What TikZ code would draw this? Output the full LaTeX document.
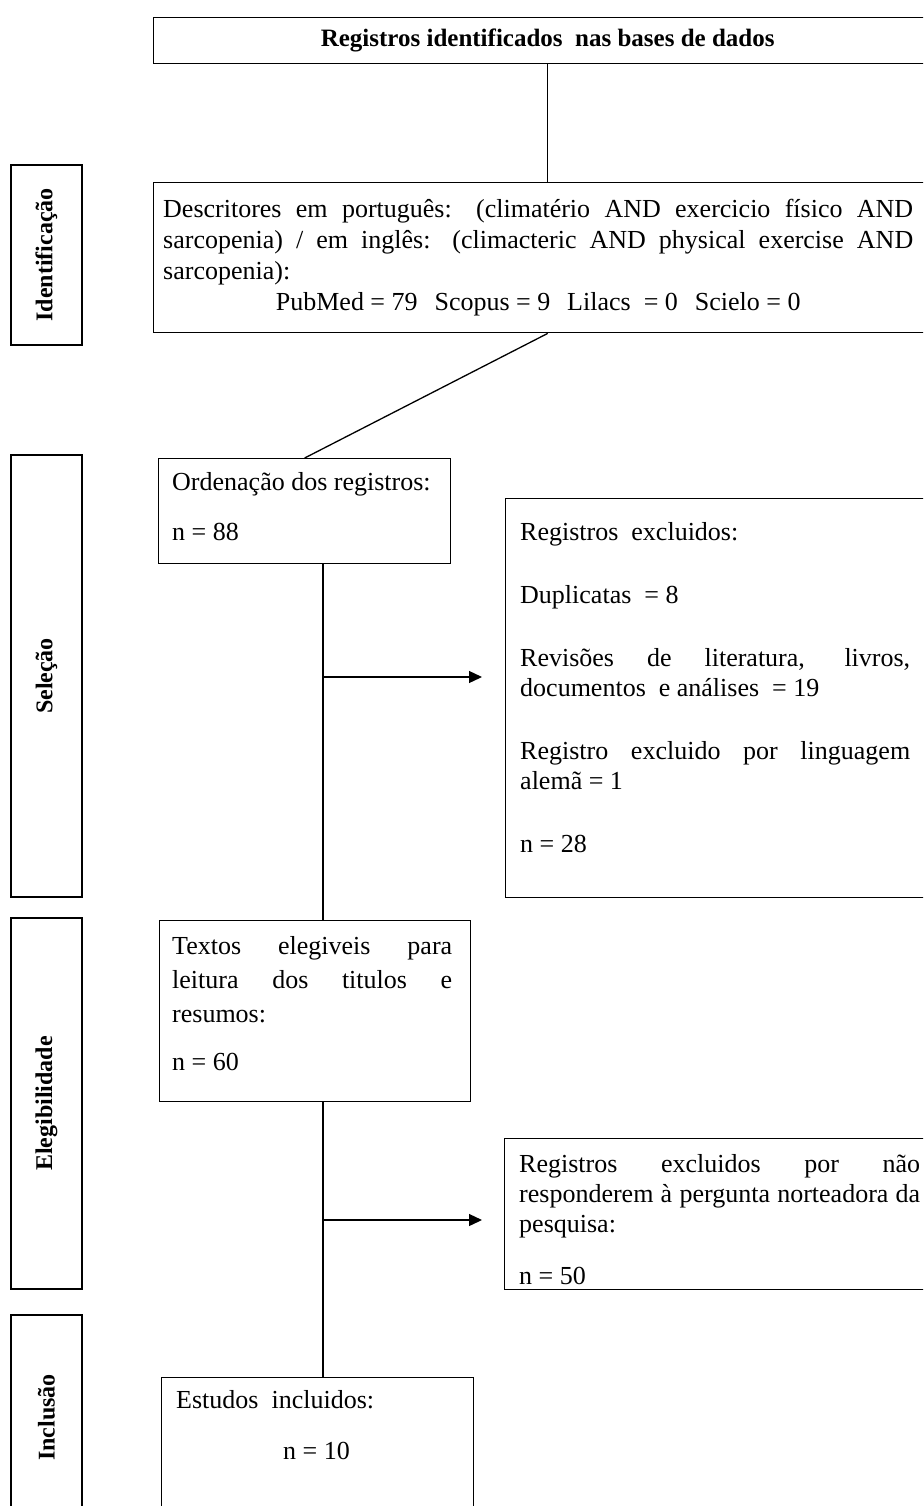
\documentclass[tikz,border=0pt]{standalone}
\usepackage{fontspec}
\setmainfont{Liberation Serif}
\usetikzlibrary{arrows.meta}

\tikzset{
	frame/.style={draw, line width=1.4pt, inner sep=0pt, anchor=north west},
	boxtext/.style={anchor=north west, inner sep=0pt, align=justify},
	stagebox/.style={draw, line width=1.4pt, rotate=90, minimum height=71pt, inner sep=0pt,
		font=\fontsize{24pt}{28pt}\selectfont\bfseries},
	flowline/.style={line width=1.3pt},
	flowarrow/.style={line width=1.3pt, -{Triangle[length=13pt,width=12pt]}}
}

\begin{document}
\begin{tikzpicture}[x=1pt,y=-1pt]
		\tikzstyle{every node}=[font=\fontsize{26pt}{30pt}\selectfont]
		
		\useasboundingbox (0,0) rectangle (923,1506);
		\clip (0,0) rectangle (923,1506);
		
		% etapas
		\node[stagebox, minimum width=180pt] (ident) at (46.5,255) {Identificação};
		\node[stagebox, minimum width=442pt] (sel) at (46.5,676) {Seleção};
		\node[stagebox, minimum width=371pt] (eleg) at (46.5,1103.5) {Elegibilidade};
		\node[stagebox, minimum width=205pt] (incl) at (46.5,1417.5) {Inclusão};
		
		% caixas
		\node[frame, minimum width=788pt, minimum height=46pt, font=\fontsize{25pt}{30pt}\selectfont\bfseries] (title) at (153,17) {Registros identificados~ nas bases de dados};
		
		\node[frame, minimum width=788pt, minimum height=150pt] (desc) at (153,182) {};
		\node[boxtext, text width=750pt, font=\fontsize{26pt}{31pt}\selectfont] (desctext) at ([xshift=10pt,yshift=-14pt]desc.north west) {\strut Descritores em português: (climatério AND exercicio físico AND\linebreak sarcopenia) / em inglês: (climacteric AND physical exercise AND\linebreak sarcopenia):\par
			{\centering PubMed = 79\hspace{.65em}Scopus = 9\hspace{.65em}Lilacs~ = 0\hspace{.65em}Scielo = 0\par}};
		
		\node[frame, minimum width=292pt, minimum height=105pt] (ord) at (158,458) {};
		\node[boxtext, text width=265pt] (ordtext) at ([xshift=14pt,yshift=-11pt]ord.north west) {\strut Ordenação dos registros:\\[20pt] n = 88};
		
		\node[frame, minimum width=440pt, minimum height=399pt] (excl1) at (505,498) {};
		\node[boxtext, text width=390pt] (excl1text) at ([xshift=15pt,yshift=-21pt]excl1.north west) {\strut Registros~ excluidos:\\[33pt]
			Duplicatas~ = 8\\[33pt]
			Revisões de literatura, livros,\linebreak documentos~ e análises~ = 19\\[33pt]
			Registro excluido por linguagem\linebreak alemã = 1\\[33pt]
			n = 28};
		
		\node[frame, minimum width=311pt, minimum height=181pt] (textos) at (159,920) {};
		\node[boxtext, text width=280pt, font=\fontsize{26pt}{34pt}\selectfont] (textostext) at ([xshift=13pt,yshift=-10pt]textos.north west) {\strut Textos elegiveis para\linebreak leitura dos titulos e\linebreak resumos:\\[14pt] n = 60};
		
		\node[frame, minimum width=441pt, minimum height=151pt] (excl2) at (504,1138) {};
		\node[boxtext, text width=401pt] (excl2text) at ([xshift=15pt,yshift=-13pt]excl2.north west) {\strut Registros excluidos por não\linebreak responderem à pergunta norteadora da\linebreak pesquisa:\\[22pt] n = 50};
		
		\node[frame, minimum width=312pt, minimum height=150pt] (estudos) at (161,1377) {};
		\node[boxtext, text width=282pt] (estudostext) at ([xshift=15pt,yshift=-10pt]estudos.north west) {\strut Estudos~ incluidos:\\[21pt] \hspace*{107pt}n = 10};
		
		% ligacoes
		\coordinate (spine) at (323,0);
		\coordinate (fork1) at (323,677);
		\coordinate (fork2) at (323,1220);
		
		\draw[flowline] (title.south) -- (desc.north);
		\draw[flowline] (desc.south) -- (ord.north);
		\draw[flowline] (ord.south -| spine) -- (textos.north -| spine);
		\draw[flowline] (textos.south -| spine) -- (estudos.north -| spine);
		\draw[flowarrow, shorten >=23pt] (fork1) -- (fork1 -| excl1.west);
		\draw[flowarrow, shorten >=22pt] (fork2) -- (fork2 -| excl2.west);
		
	\end{tikzpicture}
\end{document}
